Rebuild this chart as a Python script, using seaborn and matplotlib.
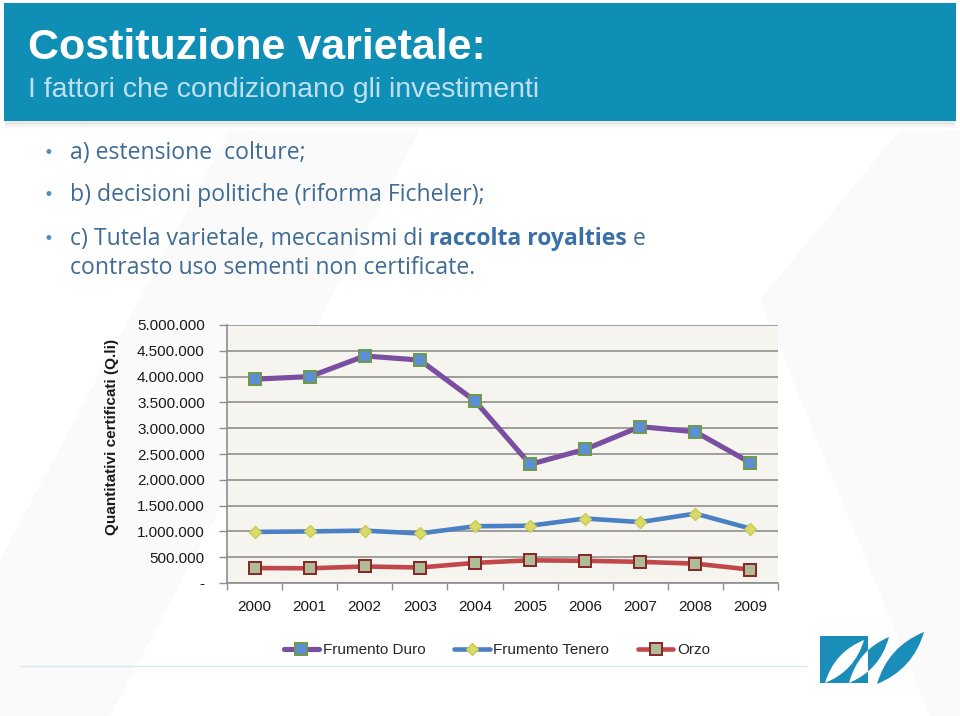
import numpy as np
import pandas as pd
import matplotlib
matplotlib.use("Agg")
import matplotlib.pyplot as plt
import seaborn as sns
from matplotlib.patches import Rectangle, Polygon, PathPatch
from matplotlib.path import Path
from matplotlib.ticker import FuncFormatter, FixedLocator
from matplotlib import font_manager

# ---------------- data ----------------
years = ["2000", "2001", "2002", "2003", "2004", "2005", "2006", "2007", "2008", "2009"]
frumento_duro = [3950000, 4000000, 4400000, 4320000, 3530000, 2300000, 2590000, 3030000, 2930000, 2330000]
frumento_tenero = [990000, 1000000, 1015000, 960000, 1100000, 1110000, 1250000, 1180000, 1345000, 1055000]
orzo = [290000, 285000, 320000, 300000, 390000, 440000, 430000, 410000, 375000, 260000]
series_names = ["Frumento Duro", "Frumento Tenero", "Orzo"]
y_ticks = [0, 500000, 1000000, 1500000, 2000000, 2500000, 3000000, 3500000, 4000000, 4500000, 5000000]

title = "Costituzione varietale:"
subtitle = "I fattori che condizionano gli investimenti"
ylabel = "Quantitativi certificati (Q.li)"

sns.set_theme(style="white")
plt.rcParams['font.family'] = ['Liberation Sans', 'DejaVu Sans']

installed = {f.name for f in font_manager.fontManager.ttflist}
narrow = 'Liberation Sans Narrow' if 'Liberation Sans Narrow' in installed else 'Liberation Sans'

W, H = 960, 716
fig = plt.figure(figsize=(W / 100, H / 100), dpi=100)
fig.patch.set_facecolor("white")

def fx(x):
    return x / W

def fy(y):
    return 1 - y / H

# faint background watermark shapes
bg = fig.add_axes([0, 0, 1, 1], zorder=-10)
bg.set_xlim(0, W)
bg.set_ylim(H, 0)
bg.axis("off")
bg.add_patch(Polygon([[0, 716], [0, 560], [230, 130], [420, 130], [110, 716]],
                     closed=True, facecolor="#fafafa", edgecolor="none"))
bg.add_patch(Polygon([[760, 300], [900, 130], [960, 130], [960, 716], [930, 716]],
                     closed=True, facecolor="#fafafa", edgecolor="none"))

# header band with shadow
for i, a in enumerate([0.10, 0.07, 0.05, 0.03, 0.015]):
    bg.add_patch(Rectangle((5, 120 + i * 1.6), 950, 2, facecolor="black", alpha=a, edgecolor="none"))
bg.add_patch(Rectangle((4, 3), 952, 118, facecolor="#0f8fb6", edgecolor="none"))

title_size = 36 if narrow != 'Liberation Sans' else 31
fig.text(fx(28), fy(48), title, color="white", fontsize=title_size, va="center", ha="left",
         fontweight="bold", family=[narrow, 'DejaVu Sans'])
fig.text(fx(28), fy(90), subtitle, color="#bfe0f0", fontsize=20.5, va="center", ha="left",
         family=['Liberation Sans', 'DejaVu Sans'])

# bullets
bullet_font = ['Open Sans', 'DejaVu Sans']
txt_col = "#3f6b94"
bsize = 16.6
renderer = fig.canvas.get_renderer()

def put_segments(x, y, segments):
    cx = x
    for s, weight, col in segments:
        t = fig.text(fx(cx), fy(y), s, fontsize=bsize, color=col, fontweight=weight,
                     va="center", ha="left", family=bullet_font)
        bb = t.get_window_extent(renderer=renderer)
        cx += bb.width

for yb in [153, 195, 239]:
    fig.text(fx(48), fy(yb), "\u2022", fontsize=12, color="#4d8fc0", va="center", ha="center",
             family=['DejaVu Sans'])

put_segments(70, 153, [("a) estensione  colture;", "normal", txt_col)])
put_segments(70, 195, [("b) decisioni politiche (riforma Ficheler);", "normal", txt_col)])
put_segments(70, 239, [("c) Tutela varietale, meccanismi di ", "normal", txt_col),
                        ("raccolta royalties", "bold", "#3a70a8"),
                        (" e", "normal", txt_col)])
put_segments(70, 268, [("contrasto uso sementi non certificate.", "normal", txt_col)])

# ---------------- chart ----------------
ax = fig.add_axes([fx(227), fy(583), fx(778) - fx(227), fy(325) - fy(583)])
ax.set_facecolor("#f5f4ef")

styles = {
    "Frumento Duro": dict(color="#7a4ea0", lw=3.7, marker="s", markersize=8.2,
                          markerfacecolor="#5d8fd6", markeredgecolor="#6f9a48", markeredgewidth=1.4),
    "Frumento Tenero": dict(color="#4a80c4", lw=3.3, marker="D", markersize=6.5,
                            markerfacecolor="#dada6a", markeredgecolor="#c9c955", markeredgewidth=1.0),
    "Orzo": dict(color="#c2474a", lw=3.3, marker="s", markersize=8.2,
                 markerfacecolor="#aebd98", markeredgecolor="#8a2424", markeredgewidth=1.4),
}
values = {"Frumento Duro": frumento_duro, "Frumento Tenero": frumento_tenero, "Orzo": orzo}

for name in series_names:
    df = pd.DataFrame({"anno": years, "valore": values[name]})
    sns.lineplot(data=df, x="anno", y="valore", ax=ax, label=name, zorder=3, **styles[name])

ax.set_xlim(-0.5, len(years) - 0.5)
ax.set_ylim(0, 5000000)
ax.set_yticks(y_ticks)

def it_fmt(v, pos):
    if v == 0:
        return "-"
    return f"{int(v):,}".replace(",", ".")

ax.yaxis.set_major_formatter(FuncFormatter(it_fmt))
ax.grid(axis="y", color="#8e8e8e", lw=1.2, zorder=1)
ax.grid(axis="x", visible=False)
ax.set_axisbelow(True)

for s in ["top", "right"]:
    ax.spines[s].set_visible(False)
for s in ["left", "bottom"]:
    ax.spines[s].set_color("#8e8e8e")
    ax.spines[s].set_linewidth(1.2)

ax.tick_params(axis="y", which="major", direction="out", length=6, width=1, color="#8e8e8e",
               labelsize=11, labelcolor="#1a1a1a", pad=10, left=True)
ax.tick_params(axis="x", which="major", length=0, labelsize=11, labelcolor="#1a1a1a", pad=12)
ax.xaxis.set_minor_locator(FixedLocator(np.arange(-0.5, len(years), 1.0)))
ax.tick_params(axis="x", which="minor", direction="out", length=5, width=1, color="#8e8e8e", bottom=True)
ax.set_xlabel("")
ax.set_ylabel("")
fig.text(fx(112), fy(437), ylabel, rotation=90, fontsize=11, fontweight="bold",
         color="#1a1a1a", va="center", ha="center")

handles, labels = ax.get_legend_handles_labels()
if ax.get_legend():
    ax.get_legend().remove()
fig.legend(handles, labels, loc="center", bbox_to_anchor=(fx(497), fy(650)), ncol=3,
           frameon=False, fontsize=11, handlelength=2.3, columnspacing=1.9, handletextpad=0.25)

# separator line under legend
bg.plot([20, 806], [666, 666], color="#d7e7ee", lw=1.0)

# logo
logo_blue = "#1a8db8"
sq = Rectangle((820, 636), 48, 47, facecolor=logo_blue, edgecolor="none")
bg.add_patch(sq)

def leaf(p0, p1, bulge):
    p0 = np.array(p0, float)
    p1 = np.array(p1, float)
    mid = (p0 + p1) / 2
    d = p1 - p0
    n = np.array([-d[1], d[0]]) / np.linalg.norm(d)
    c1 = mid + n * bulge
    c2 = mid - n * bulge
    verts = [p0, c1, p1, c2, p0]
    codes = [Path.MOVETO, Path.CURVE3, Path.CURVE3, Path.CURVE3, Path.CURVE3]
    return Path(verts, codes)

bg.add_patch(PathPatch(leaf((825, 683), (864, 640), 14), facecolor="white", edgecolor="none"))
l2 = leaf((849, 683), (889, 637), 15)
bg.add_patch(PathPatch(l2, facecolor=logo_blue, edgecolor="none"))
p2w = PathPatch(l2, facecolor="white", edgecolor="none")
bg.add_patch(p2w)
p2w.set_clip_path(sq)
bg.add_patch(PathPatch(leaf((877, 684), (924, 632), 17), facecolor=logo_blue, edgecolor="none"))

fig.savefig("out.png", dpi=100, facecolor="white")
